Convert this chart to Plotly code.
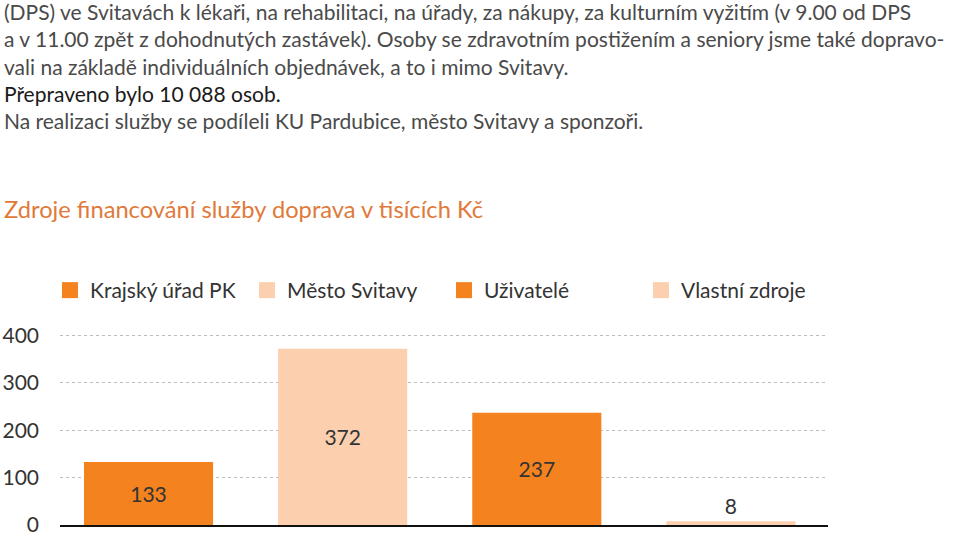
import plotly.graph_objects as go

categories = ["Krajský úřad PK", "Město Svitavy", "Uživatelé", "Vlastní zdroje"]
values = [133, 372, 237, 8]
colors = ["#F4831F", "#FCD0AE", "#F4831F", "#FCD0AE"]
yticks = [0, 100, 200, 300, 400]

paragraph = [
    "(DPS) ve Svitavách k lékaři, na rehabilitaci, na úřady, za nákupy, za kulturním vyžitím (v 9.00 od DPS",
    "a v 11.00 zpět z dohodnutých zastávek). Osoby se zdravotním postižením a seniory jsme také dopravo-",
    "vali na základě individuálních objednávek, a to i mimo Svitavy.",
    "<span style='color:#1a1a1a'>Přepraveno bylo 10 088 osob.</span>",
    "Na realizaci služby se podíleli KU Pardubice, město Svitavy a sponzoři.",
]
subtitle = "Zdroje financování služby doprava v tisících Kč"

W, Hfig = 960, 535
L, R, B = 60, 132, 10
YMAX = 405
T = 332.6
PH = Hfig - T - B
PW = W - L - R

def py(px):
    return (Hfig - B - px) / PH

def pxx(px):
    return (px - L) / PW

FONT = "Lato"

fig = go.Figure()
fig.add_trace(go.Bar(
    x=categories, y=values, marker=dict(color=colors, line=dict(width=0)),
    text=[str(v) for v in values], textposition="auto", insidetextanchor="middle",
    textfont=dict(family=FONT, size=21, color="#333333"),
    showlegend=False, cliponaxis=False, hoverinfo="skip",
))
for name, c in zip(categories, colors):
    fig.add_trace(go.Scatter(
        x=[None], y=[None], mode="markers", name=name,
        marker=dict(symbol="square", size=16, color=c, line=dict(width=0)),
    ))

fig.update_layout(
    width=W, height=Hfig,
    margin=dict(l=L, r=R, t=T, b=B, autoexpand=False),
    paper_bgcolor="white", plot_bgcolor="white",
    bargap=0.335,
    font=dict(family=FONT, color="#333333", size=20),
    showlegend=True,
    legend=dict(
        orientation="h", x=pxx(50), xanchor="left", y=py(290), yanchor="middle",
        font=dict(family=FONT, size=21, color="#333333"),
        itemsizing="trace", bgcolor="rgba(0,0,0,0)",
        entrywidth=152, entrywidthmode="pixels",
    ),
    xaxis=dict(
        range=[-0.456, 3.5], showticklabels=False, showgrid=False, zeroline=False,
        showline=True, linecolor="#111111", linewidth=2, ticks="",
    ),
    yaxis=dict(
        range=[0, YMAX], tickvals=yticks, ticktext=[str(v) for v in yticks],
        showgrid=True, gridcolor="#bdbdbd", griddash="dot", gridwidth=1,
        zeroline=False, showline=False, ticks="",
        tickfont=dict(family=FONT, size=21, color="#333333"), ticklabelstandoff=20,
        ticklabeloverflow="allow",
    ),
    annotations=[
        dict(text="<br>".join(paragraph), xref="paper", yref="paper",
             x=pxx(2), y=py(-4), xanchor="left", yanchor="top", align="left",
             showarrow=False, font=dict(family=FONT, size=21, color="#4a4a4a")),
        dict(text=subtitle, xref="paper", yref="paper",
             x=pxx(2), y=py(208), xanchor="left", yanchor="middle", align="left",
             showarrow=False, font=dict(family=FONT, size=23.7, color="#E07A3A")),
    ],
)

fig.write_html("out.html")
